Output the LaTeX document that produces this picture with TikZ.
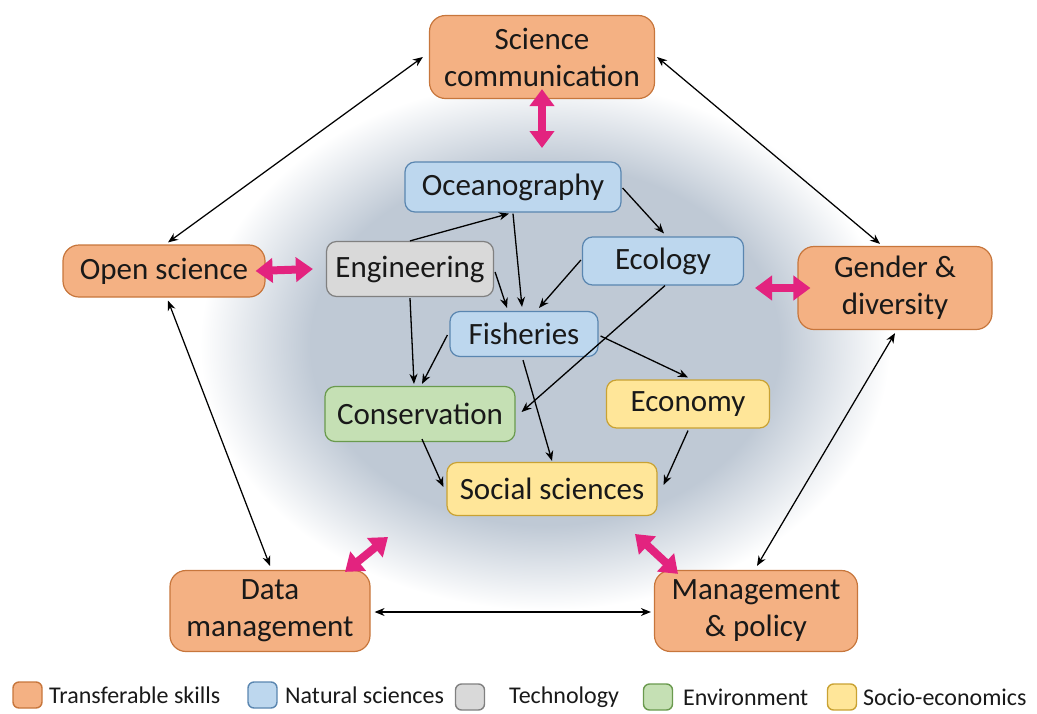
\documentclass[tikz,border=0pt]{standalone}
\usepackage{fontspec}
\setmainfont{Carlito}
\usetikzlibrary{arrows.meta,calc}
\definecolor{orfill}{HTML}{F4B183}
\definecolor{ordraw}{HTML}{C7763C}
\definecolor{blfill}{HTML}{BDD7EE}
\definecolor{bldraw}{HTML}{5A86B0}
\definecolor{grfill}{HTML}{D9D9D9}
\definecolor{grdraw}{HTML}{808080}
\definecolor{gnfill}{HTML}{C5E0B4}
\definecolor{gndraw}{HTML}{6A9A4E}
\definecolor{yefill}{HTML}{FFE699}
\definecolor{yedraw}{HTML}{C9A233}
\definecolor{magent}{HTML}{E3237F}
\definecolor{glowc}{HTML}{BFC9D5}
\pgfdeclareradialshading{glow}{\pgfpoint{0bp}{0bp}}{color(0bp)=(glowc); color(17bp)=(glowc); color(25bp)=(white); color(50bp)=(white)}
\begin{document}
\begin{tikzpicture}[x=1pt,y=-1pt,
  box/.style={draw, line width=1.2pt, align=center, inner sep=0pt, text=black!90, font=\fontsize{31}{37}\selectfont},
  skill/.style={box, fill=orfill, draw=ordraw, rounded corners=16pt},
  inbox/.style={box, rounded corners=10pt},
  nat/.style={inbox, fill=blfill, draw=bldraw},
  tech/.style={inbox, fill=grfill, draw=grdraw},
  env/.style={inbox, fill=gnfill, draw=gndraw},
  soc/.style={inbox, fill=yefill, draw=yedraw},
  link/.style={-{Stealth[length=10pt,width=8pt]}, line width=1.3pt},
  dlink/.style={{Stealth[length=10pt,width=8pt]}-{Stealth[length=10pt,width=8pt]}, line width=1.25pt},
  mag/.style={draw=magent, line width=8pt, {Triangle[length=17pt,width=24pt]}-{Triangle[length=17pt,width=24pt]}},
  legsq/.style={draw, line width=1.4pt, rounded corners=6pt, minimum width=29pt, minimum height=26pt, inner sep=0pt},
  legtx/.style={anchor=west, inner sep=0pt, font=\fontsize{24}{28}\selectfont, text=black!90}
]
\useasboundingbox (0,0) rectangle (1037,713);
\shade[shading=glow] (545,345) ellipse [x radius=345, y radius=265];

% outer nodes
\node[skill, minimum width=225pt, minimum height=83pt] (sci) at (542,57) {Science\\communication};
\node[skill, minimum width=202pt, minimum height=52pt] (open) at (164,271) {Open science};
\node[skill, minimum width=194pt, minimum height=83pt] (gen) at (895,288) {Gender \&\\diversity};
\node[skill, minimum width=200pt, minimum height=81pt] (data) at (270,611) {Data\\management};
\node[skill, minimum width=203pt, minimum height=81pt] (mgmt) at (756,611) {Management\\\& policy};

% inner nodes
\node[nat, minimum width=216pt, minimum height=50pt] (ocean) at (513,187) {Oceanography};
\node[tech, minimum width=167pt, minimum height=55pt] (eng) at (410,269) {Engineering};
\node[nat, minimum width=161pt, minimum height=48pt] (eco) at (663,261) {Ecology};
\node[nat, minimum width=148pt, minimum height=45pt] (fish) at (524,334) {Fisheries};
\node[env, minimum width=190pt, minimum height=55pt] (cons) at (420,414) {Conservation};
\node[soc, minimum width=163pt, minimum height=48pt] (econ) at (688,404) {Economy};
\node[soc, minimum width=210pt, minimum height=53pt] (socs) at (552,489) {Social sciences};

% inner links
\draw[link] (eng.north) -- ($(ocean.south)+(-4,1)$);
\draw[link] ($(ocean.south)+(0,1)$) -- ($(fish.north)+(-2,-4)$);
\draw[link] ($(ocean.east)+(1,1)$) -- ($(eco.north)+(1,-3)$);
\draw[link] ($(eng.east)+(1,3)$) -- ($(fish.north)+(-17,-3)$);
\draw[link] ($(eco.west)+(-1,-1)$) -- ($(fish.north)+(15,-3)$);
\draw[link] ($(eco.south)+(2,0)$) -- ($(cons.east)+(6,-2)$);
\draw[link] ($(fish.east)+(2,2)$) -- ($(econ.north)+(0,-2)$);
\draw[link] ($(fish.west)+(-2,1)$) -- ($(cons.north)+(2,-2)$);
\draw[link] ($(eng.south)+(0,1)$) -- ($(cons.north)+(-6,-2)$);
\draw[link] ($(fish.south)+(-1,3)$) -- ($(socs.north)+(0,-1)$);
\draw[link] ($(cons.south)+(2,-3)$) -- ($(socs.west)+(-3,-2)$);
\draw[link] ($(econ.south)+(0,2)$) -- ($(socs.east)+(6,-4)$);

% outer links
\draw[dlink] ($(sci.west)+(-6,0)$) -- ($(open.north)+(4,-2)$);
\draw[dlink] ($(sci.east)+(2,0)$) -- ($(gen.north)+(-15,-2)$);
\draw[dlink] ($(open.south)+(4,3)$) -- ($(data.north)+(0,-4)$);
\draw[dlink] ($(gen.south)+(0,3)$) -- ($(mgmt.north)+(1,-4)$);
\draw[dlink] ($(data.east)+(4,1)$) -- ($(mgmt.west)+(-3,1)$);

% magenta links
\coordinate (mtop) at (542,148);
\coordinate (mgen) at (755,288);
\coordinate (mdata) at (388,537);
\coordinate (mmgmt) at (635,534);
\draw[mag] ($(sci.south)+(0,-10)$) -- (mtop);
\draw[mag] ($(open.east)+(-10,0)$) -- ($(eng.west)+(-13,0)$);
\draw[mag] ($(gen.west)+(13,0)$) -- (mgen);
\draw[mag] ($(data.north)+(75,2)$) -- (mdata);
\draw[mag] ($(mgmt.north)+(-78,4)$) -- (mmgmt);

% legend
\node[legsq, fill=orfill, draw=ordraw] (l1) at (27.5,695) {};
\node[legtx] (t1) at (49,695) {Transferable skills};
\node[legsq, fill=blfill, draw=bldraw] (l2) at (262.5,695) {};
\node[legtx] (t2) at (285,695) {Natural sciences};
\node[legsq, fill=grfill, draw=grdraw] (l3) at (470,697) {};
\node[legtx] (t3) at (509,697) {Technology};
\node[legsq, fill=gnfill, draw=gndraw] (l4) at (658,697) {};
\node[legtx] (t4) at (683,697) {Environment};
\node[legsq, fill=yefill, draw=yedraw] (l5) at (842,697) {};
\node[legtx] (t5) at (863,697) {Socio-economics};
\end{tikzpicture}
\end{document}
